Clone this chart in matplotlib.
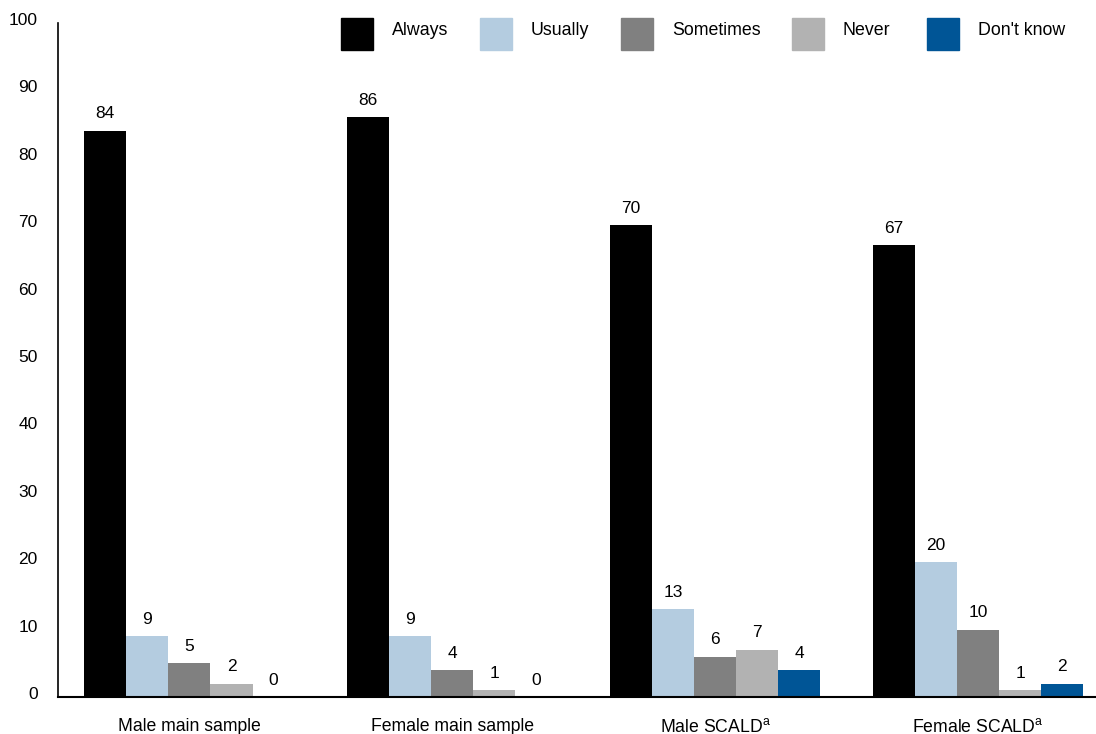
import matplotlib
matplotlib.use("Agg")
import matplotlib.pyplot as plt
import matplotlib.transforms as mtransforms
from matplotlib.patches import Rectangle
import numpy as np

plt.rcParams['font.family'] = ['Liberation Sans', 'DejaVu Sans']
plt.rcParams['mathtext.fontset'] = 'custom'
plt.rcParams['mathtext.rm'] = 'Liberation Sans'
plt.rcParams['mathtext.it'] = 'Liberation Sans'

categories = ["Male main sample", "Female main sample",
              "Male SCALD$^{\\mathrm{a}}$", "Female SCALD$^{\\mathrm{a}}$"]
series_names = ["Always", "Usually", "Sometimes", "Never", "Don't know"]
always = [84, 86, 70, 67]
usually = [9, 9, 13, 20]
sometimes = [5, 4, 6, 10]
never = [2, 1, 7, 1]
dont_know = [0, 0, 4, 2]
series = [always, usually, sometimes, never, dont_know]
colors = ["#000000", "#B4CCE0", "#808080", "#B2B2B2", "#005596"]
yticks = list(range(0, 101, 10))

W, H = 1096, 734
fig = plt.figure(figsize=(W / 100, H / 100), dpi=100)
ax = fig.add_axes([58 / W, 37 / H, 1051.5 / W, 674 / H])

x = np.arange(len(categories))
bw = 0.16
for j, (name, vals, c) in enumerate(zip(series_names, series, colors)):
    ax.bar(x + (j - 2) * bw, vals, width=bw, color=c, label=name, zorder=2)
    for xi, v in zip(x + (j - 2) * bw, vals):
        ax.annotate(f"{v:.0f}", (xi, v), xytext=(0, 12.2), textcoords="offset points",
                    ha="center", va="center", fontsize=12.5, color="#000000")

ax.set_xlim(-0.5, 3.5)
ax.set_ylim(0, 100)
ax.set_yticks(yticks)
ax.set_yticklabels([str(t) for t in yticks], fontsize=12.5)
ax.set_xticks(x)
ax.set_xticklabels(categories, fontsize=12.7)
ax.tick_params(axis="y", length=0, pad=14.5)
ax.tick_params(axis="x", length=0, pad=14.8)
off = mtransforms.ScaledTranslation(0, 4 / 100, fig.dpi_scale_trans)
for lab in ax.get_yticklabels():
    lab.set_transform(lab.get_transform() + off)

for s in ["top", "right"]:
    ax.spines[s].set_visible(False)
ax.spines["left"].set_linewidth(1.2)
ax.spines["bottom"].set_linewidth(1.5)

# legend (manual layout to match the reference spacing)
legend_px = [341, 480, 621, 792, 927]
for lx, name, c in zip(legend_px, series_names, colors):
    fig.patches.append(Rectangle((lx / W, 1 - 49.5 / H), 32 / W, 31 / H,
                                 transform=fig.transFigure, color=c))
    fig.text((lx + 51) / W, 1 - 30.5 / H, name, fontsize=12.8,
             ha="left", va="center")

fig.savefig("out.png", dpi=100)
